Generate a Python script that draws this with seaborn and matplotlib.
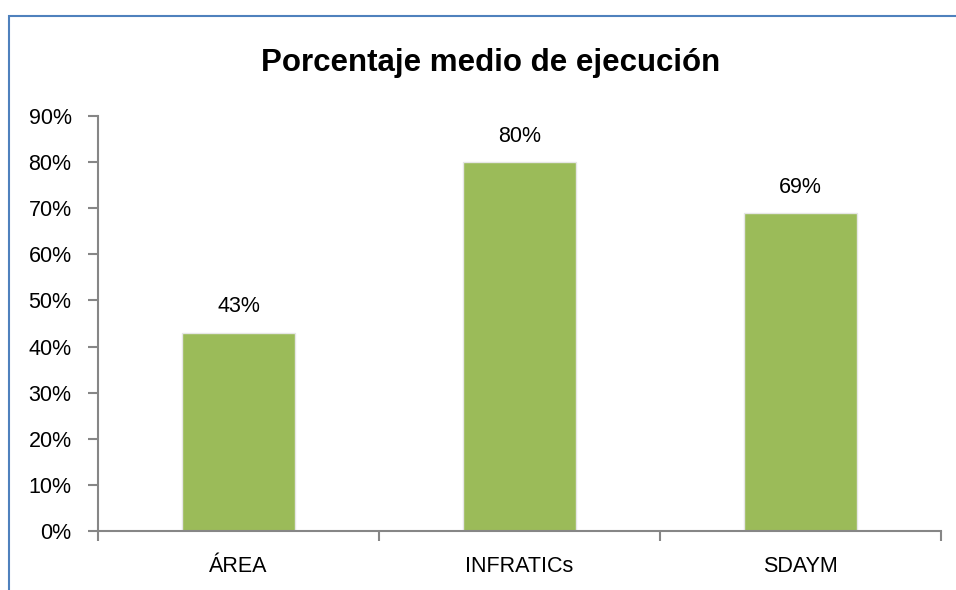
import pandas as pd
import matplotlib.pyplot as plt
import seaborn as sns
from matplotlib.ticker import PercentFormatter, FixedLocator, NullFormatter
from matplotlib.patches import Rectangle

# Datos
categorias = ['ÁREA', 'INFRATICs', 'SDAYM']
porcentajes = [0.43, 0.80, 0.69]
etiquetas = ['43%', '80%', '69%']

data = pd.DataFrame({'categoria': categorias, 'valor': porcentajes})

sns.set_style('white')
plt.rcParams['font.family'] = ['Liberation Sans', 'DejaVu Sans']
plt.rcParams['text.color'] = 'black'
plt.rcParams['xtick.labelcolor'] = 'black'
plt.rcParams['ytick.labelcolor'] = 'black'

fig = plt.figure(figsize=(9.56, 5.90), dpi=100)
ax = fig.add_axes([0.1025, 0.1, 0.8818, 0.7034])

sns.barplot(data=data, x='categoria', y='valor', color='#9BBB59',
            saturation=1, width=0.4, ax=ax, edgecolor='#e6e6e6', linewidth=1)

for i, (v, t) in enumerate(zip(porcentajes, etiquetas)):
    ax.text(i, v + 0.056, t, ha='center', va='center', fontsize=15.5)

ax.set_ylim(0, 0.9)
ax.set_xlim(-0.5, 2.5)
ax.yaxis.set_major_formatter(PercentFormatter(1.0, decimals=0))
ax.set_yticks([i / 10 for i in range(10)])
ax.tick_params(axis='y', labelsize=15.5, length=7, width=1.5, color='#868686',
               direction='out', left=True, pad=12)

# ticks del eje x en los límites de categoría
ax.xaxis.set_major_locator(FixedLocator([-0.5, 0.5, 1.5, 2.5]))
ax.xaxis.set_major_formatter(NullFormatter())
ax.xaxis.set_minor_locator(FixedLocator([0, 1, 2]))
ax.set_xticklabels(categorias, minor=True)
ax.tick_params(axis='x', which='major', length=7, width=1.5, color='#868686',
               direction='out', bottom=True)
ax.tick_params(axis='x', which='minor', length=0, labelsize=15.5, pad=18)

ax.set_xlabel('')
ax.set_ylabel('')
for s in ['top', 'right']:
    ax.spines[s].set_visible(False)
for s in ['left', 'bottom']:
    ax.spines[s].set_color('#868686')
    ax.spines[s].set_linewidth(1.5)

fig.text(0.513, 0.894, 'Porcentaje medio de ejecución', ha='center',
         va='center', fontsize=22.5, fontweight='bold')

# marco del gráfico
fig.add_artist(Rectangle((9 / 956, -0.1), 1.2, 1.1 - 16 / 590,
                         transform=fig.transFigure, fill=False,
                         edgecolor='#4F81BD', linewidth=1.5, clip_on=False))

plt.savefig('out.png', dpi=100)
